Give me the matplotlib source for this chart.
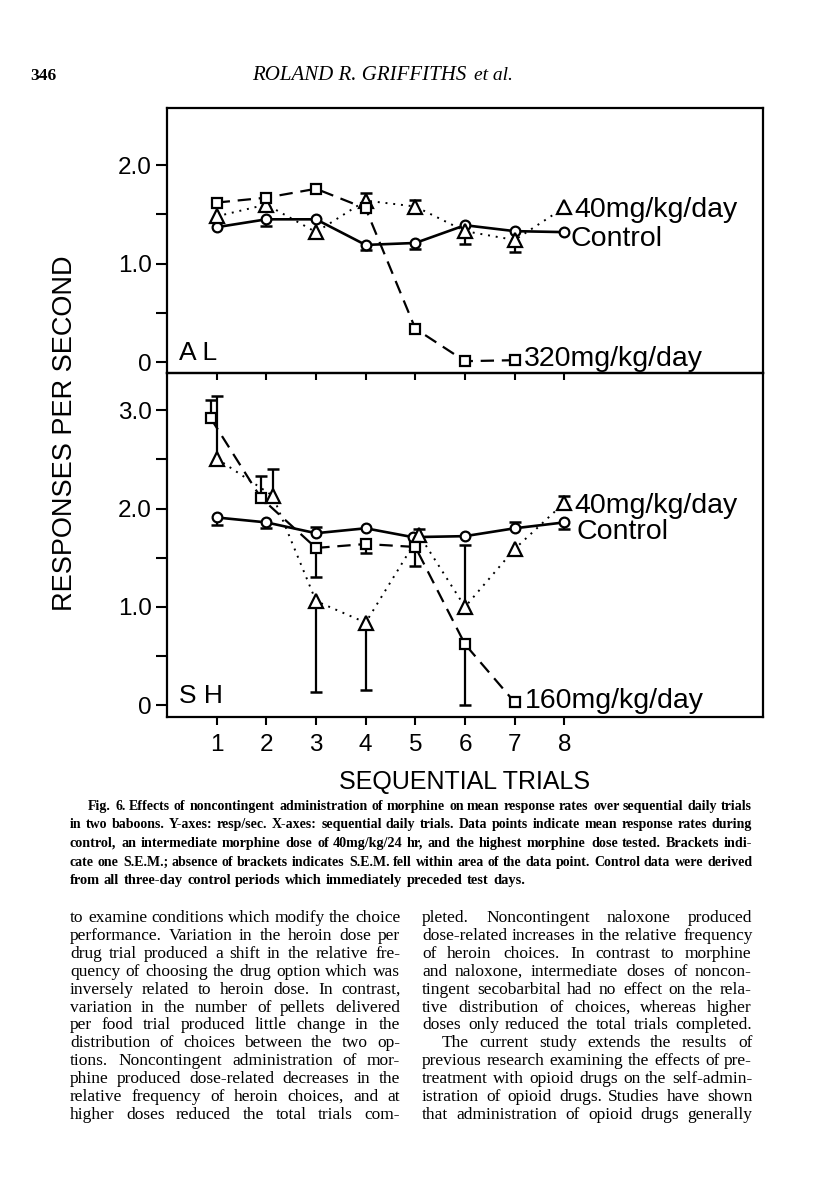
import matplotlib
matplotlib.use("Agg")
import matplotlib.pyplot as plt
import numpy as np
from matplotlib.transforms import IdentityTransform

# ---------------- data ----------------
trials = [1, 2, 3, 4, 5, 6, 7, 8]
trial_labels = ["1", "2", "3", "4", "5", "6", "7", "8"]

top_yticks = [0, 0.5, 1.0, 1.5, 2.0]
top_ytick_labels = ["0", "", "1.0", "", "2.0"]
bot_yticks = [0, 0.5, 1.0, 1.5, 2.0, 2.5, 3.0]
bot_ytick_labels = ["0", "", "1.0", "", "2.0", "", "3.0"]

# Baboon AL
al_control_x = [1, 2, 3, 4, 5, 6, 7, 8]
al_control = [1.37, 1.45, 1.45, 1.19, 1.21, 1.39, 1.33, 1.32]
al_control_lo = [0, 0.07, 0, 0.05, 0.06, 0, 0, 0]
al_control_hi = [0, 0, 0, 0, 0, 0, 0, 0]

al_40_x = [1, 2, 3, 4, 5, 6, 7, 8]
al_40 = [1.48, 1.60, 1.32, 1.64, 1.58, 1.33, 1.24, 1.57]
al_40_lo = [0, 0, 0, 0, 0, 0.13, 0.12, 0]
al_40_hi = [0, 0, 0, 0.08, 0.07, 0, 0, 0]

al_320_x = [1, 2, 3, 4, 5, 6, 7]
al_320 = [1.62, 1.67, 1.76, 1.56, 0.34, 0.01, 0.02]
al_320_lo = [0, 0, 0, 0, 0, 0, 0]
al_320_hi = [0, 0, 0, 0, 0, 0, 0]

# Baboon SH
sh_control_x = [1, 2, 3, 4, 4.95, 6, 7, 8]
sh_control = [1.91, 1.86, 1.75, 1.80, 1.71, 1.72, 1.80, 1.86]
sh_control_lo = [0.08, 0.06, 0, 0, 0, 0, 0, 0.07]
sh_control_hi = [0, 0, 0.06, 0, 0, 0, 0.06, 0]

sh_40_x = [1.0, 2.13, 3, 4, 5.08, 6, 7, 8]
sh_40 = [2.51, 2.13, 1.06, 0.84, 1.73, 1.00, 1.59, 2.06]
sh_40_lo = [0, 0, 0.93, 0.69, 0, 0, 0, 0]
sh_40_hi = [0.64, 0.27, 0, 0, 0.06, 0.63, 0, 0.07]

sh_160_x = [0.88, 1.89, 3, 4, 5, 6, 7]
sh_160 = [2.92, 2.11, 1.60, 1.64, 1.61, 0.62, 0.03]
sh_160_lo = [0, 0, 0.30, 0.09, 0.19, 0.62, 0]
sh_160_hi = [0.19, 0.22, 0, 0, 0, 0, 0]

label_40 = "40mg/kg/day"
label_control = "Control"
label_320 = "320mg/kg/day"
label_160 = "160mg/kg/day"

caption_lines = [
    "Fig. 6. Effects of noncontingent administration of morphine on mean response rates over sequential daily trials",
    "in two baboons. Y-axes: resp/sec. X-axes: sequential daily trials. Data points indicate mean response rates during",
    "control, an intermediate morphine dose of 40mg/kg/24 hr, and the highest morphine dose tested. Brackets indi-",
    "cate one S.E.M.; absence of brackets indicates S.E.M. fell within area of the data point. Control data were derived",
    "from all three-day control periods which immediately preceded test days.",
]
left_col = [
    "to examine conditions which modify the choice",
    "performance. Variation in the heroin dose per",
    "drug trial produced a shift in the relative fre-",
    "quency of choosing the drug option which was",
    "inversely related to heroin dose. In contrast,",
    "variation in the number of pellets delivered",
    "per food trial produced little change in the",
    "distribution of choices between the two op-",
    "tions. Noncontingent administration of mor-",
    "phine produced dose-related decreases in the",
    "relative frequency of heroin choices, and at",
    "higher doses reduced the total trials com-",
]
right_col = [
    "pleted. Noncontingent naloxone produced",
    "dose-related increases in the relative frequency",
    "of heroin choices. In contrast to morphine",
    "and naloxone, intermediate doses of noncon-",
    "tingent secobarbital had no effect on the rela-",
    "tive distribution of choices, whereas higher",
    "doses only reduced the total trials completed.",
    "The current study extends the results of",
    "previous research examining the effects of pre-",
    "treatment with opioid drugs on the self-admin-",
    "istration of opioid drugs. Studies have shown",
    "that administration of opioid drugs generally",
]

# ---------------- figure ----------------
W_PX, H_PX = 816, 1200
fig = plt.figure(figsize=(8.16, 12), dpi=100)
fig.patch.set_facecolor("white")
SANS = "Liberation Sans"
SERIF = "Liberation Serif"

left = 167 / W_PX
width = (763 - 167) / W_PX
ax1 = fig.add_axes([left, 1 - 373 / H_PX, width, (373 - 108) / H_PX])
ax2 = fig.add_axes([left, 1 - 717 / H_PX, width, (717 - 373) / H_PX])
ax2.patch.set_visible(False)
ax1.set_zorder(1)
ax1.patch.set_visible(False)

LW_SOLID = 1.9
LW_DASH = 1.6
LW_DOT = 1.4
MEW = 1.6


def draw_series(ax, x, y, lo, hi, marker, ms, style):
    x = np.asarray(x, float)
    y = np.asarray(y, float)
    lo = np.asarray(lo, float)
    hi = np.asarray(hi, float)
    if style == "solid":
        ax.plot(x, y, color="k", lw=LW_SOLID, ls="-", zorder=2, solid_capstyle="butt")
    elif style == "dash":
        ax.plot(x, y, color="k", lw=LW_DASH, ls=(0, (6, 3.5)), zorder=2)
    else:
        ax.plot(x, y, color="k", lw=LW_DOT, ls=(0, (1, 3)), zorder=2)
    m = hi > 0
    if m.any():
        ax.vlines(x[m], y[m], y[m] + hi[m], color="k", lw=1.6, zorder=3)
        ax.plot(x[m], y[m] + hi[m], ls="none", marker="_", ms=9, mew=1.8, color="k", zorder=3)
    m = lo > 0
    if m.any():
        ax.vlines(x[m], y[m] - lo[m], y[m], color="k", lw=1.6, zorder=3)
        ax.plot(x[m], y[m] - lo[m], ls="none", marker="_", ms=9, mew=1.8, color="k", zorder=3)
    ax.plot(x, y, ls="none", marker=marker, ms=ms, mfc="white", mec="k", mew=MEW, zorder=4)


def end_label(ax, x, y, text, dx, dy):
    ax.annotate(text, xy=(x[-1], y[-1]), xytext=(dx, dy), textcoords="offset points",
                ha="left", va="center_baseline", fontsize=20.5, family=SANS, color="k", zorder=5)


# top panel (AL)
draw_series(ax1, al_control_x, al_control, al_control_lo, al_control_hi, "o", 7, "solid")
draw_series(ax1, al_40_x, al_40, al_40_lo, al_40_hi, "^", 9.5, "dot")
draw_series(ax1, al_320_x, al_320, al_320_lo, al_320_hi, "s", 6.5, "dash")
end_label(ax1, al_40_x, al_40, label_40, 7, 0)
end_label(ax1, al_control_x, al_control, label_control, 4.5, -3)
end_label(ax1, al_320_x, al_320, label_320, 7, 3)
ax1.text(0.25, 0.02, "A L", fontsize=19, family=SANS, ha="left", va="baseline")

# bottom panel (SH)
draw_series(ax2, sh_control_x, sh_control, sh_control_lo, sh_control_hi, "o", 7, "solid")
draw_series(ax2, sh_40_x, sh_40, sh_40_lo, sh_40_hi, "^", 9.5, "dot")
draw_series(ax2, sh_160_x, sh_160, sh_160_lo, sh_160_hi, "s", 6.5, "dash")
end_label(ax2, sh_40_x, sh_40, label_40, 7, 0)
end_label(ax2, sh_control_x, sh_control, label_control, 9, -5)
end_label(ax2, sh_160_x, sh_160, label_160, 7, 3)
ax2.text(0.25, 0.02, "S H", fontsize=19, family=SANS, ha="left", va="baseline")

for ax, yt, ytl, ylim in [(ax1, top_yticks, top_ytick_labels, (-0.11, 2.58)),
                          (ax2, bot_yticks, bot_ytick_labels, (-0.12, 3.38))]:
    ax.set_xlim(0, 12)
    ax.set_ylim(*ylim)
    ax.set_yticks(yt)
    ax.set_yticklabels(ytl, fontsize=17.5, family=SANS)
    for s in ax.spines.values():
        s.set_linewidth(1.6)
    ax.tick_params(axis="y", direction="out", length=8, width=1.5, pad=3, left=True, right=False)

ax1.set_xticks(trials)
ax1.tick_params(axis="x", direction="out", length=5, width=1.5, labelbottom=False)
ax2.set_xticks(trials)
ax2.set_xticklabels(trial_labels, fontsize=17.5, family=SANS)
ax2.tick_params(axis="x", direction="out", length=6, width=1.5, pad=6)

fig.text(65 / W_PX, 1 - 433 / H_PX, "RESPONSES PER SECOND", rotation=90, ha="center", va="center",
         fontsize=19.5, family=SANS)
fig.text(465 / W_PX, 1 - 782 / H_PX, "SEQUENTIAL TRIALS", ha="center", va="center",
         fontsize=18, family=SANS)

# ---------------- page text ----------------
fig.text(30 / W_PX, 1 - 80 / H_PX, "346", ha="left", va="baseline", fontsize=12.5,
         family=SERIF, weight="bold")
fig.text(466 / W_PX, 1 - 80 / H_PX, "ROLAND R. GRIFFITHS", ha="right", va="baseline",
         fontsize=15, family=SERIF, style="italic")
fig.text(474 / W_PX, 1 - 80 / H_PX, "et al.", ha="left", va="baseline",
         fontsize=14, family=SERIF, style="italic")

renderer = fig.canvas.get_renderer()


def put_line(line, x0, x1, y_img, justify=True, spacing=0.25, fontsize=12, **kw):
    words = line.split(" ")
    fs = fontsize
    while True:
        ts = [fig.text(0, 0, w, transform=IdentityTransform(), ha="left", va="baseline",
                       fontsize=fs, **kw) for w in words]
        widths = [t.get_window_extent(renderer).width for t in ts]
        space = fs * 100 / 72 * spacing
        gap = (x1 - x0 - sum(widths)) / max(len(words) - 1, 1)
        if not justify or gap >= 0.9 * space or fs < 6:
            break
        for t in ts:
            t.remove()
        fs -= 0.2
    if not justify or len(words) < 2:
        gap = space
    x = x0
    ypix = round(H_PX - y_img)
    for t, w in zip(ts, widths):
        t.set_position((round(x), ypix))
        x += w + gap


cap_kw = dict(fontsize=10.4, family=SERIF, weight="bold")
for i, line in enumerate(caption_lines):
    y = 810 + i * 18.5
    x0 = 88 if i == 0 else 70
    put_line(line, x0, 752, y, justify=(i < len(caption_lines) - 1), spacing=0.3, **cap_kw)

body_kw = dict(fontsize=12.5, family=SERIF)
for i, line in enumerate(left_col):
    put_line(line, 70, 400, 922 + i * 17.9, **body_kw)
for i, line in enumerate(right_col):
    x0 = 442 if i == 7 else 422
    put_line(line, x0, 752, 922 + i * 17.9, **body_kw)

fig.savefig("out.png", dpi=100, facecolor="white")
